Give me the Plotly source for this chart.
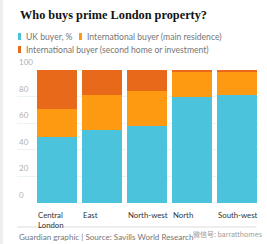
import plotly.graph_objects as go

categories = ["Central London", "East", "North-west", "North", "South-west"]
cat_labels = ["Central<br>London", "East", "North-west", "North", "South-west"]
uk_buyer = [50, 55, 58, 80, 81]
intl_main = [21, 26, 26, 19, 18]
intl_second = [29, 19, 16, 1, 1]
series_names = ["UK buyer, %", "International buyer (main residence)",
                "International buyer (second home or investment)"]
colors = ["#4cc3dc", "#fe9a12", "#e8691a"]
y_ticks = [0, 20, 40, 60, 80, 100]

FONT = "Lato"
xs = list(range(len(categories)))

fig = go.Figure()
for vals, name, col in zip([uk_buyer, intl_main, intl_second], series_names, colors):
    fig.add_trace(go.Bar(x=xs, y=vals, name=name, marker=dict(color=col, line=dict(width=0)),
                         showlegend=False))

fig.update_layout(
    barmode="stack",
    bargap=0.11,
    width=267, height=244,
    margin=dict(l=17, r=8, t=70, b=41),
    paper_bgcolor="white", plot_bgcolor="white",
    font=dict(family=FONT, size=9, color="#767676"),
    xaxis=dict(range=[-0.889, 4.5], showticklabels=False, showgrid=False,
               zeroline=False, showline=False, fixedrange=True),
    yaxis=dict(range=[0, 100], tickvals=y_ticks, showticklabels=False,
               showgrid=True, gridcolor="rgba(225,238,242,0.75)", gridwidth=1,
               zeroline=False, layer="above traces", fixedrange=True),
)

annotations = []
# title
annotations.append(dict(text="<b>Who buys prime London property?</b>", xref="paper", yref="paper",
                        x=0, y=1, xanchor="left", yanchor="middle", yshift=55, xshift=1,
                        showarrow=False,
                        font=dict(family="Liberation Serif", size=12.3, color="#121212")))
# y tick labels
for v in y_ticks:
    annotations.append(dict(text=str(v), xref="paper", yref="y", x=0, y=v,
                            xanchor="left", yanchor="bottom", yshift=1, showarrow=False,
                            font=dict(family=FONT, size=8, color="#b0b0b0")))
# x tick labels (left-aligned to bar edges)
for i, lab in zip(xs, cat_labels):
    annotations.append(dict(text=lab, xref="x", yref="paper", x=i, y=0, xshift=-21,
                            xanchor="left", yanchor="top", yshift=-5, showarrow=False,
                            align="left", font=dict(family=FONT, size=7.8, color="#333333")))
# source
annotations.append(dict(text="Guardian graphic | Source: Savills World Research", xref="paper",
                        yref="paper", x=0, y=0, xanchor="left", yanchor="middle", yshift=-34,
                        showarrow=False, font=dict(family=FONT, size=8.1, color="#767676")))
annotations.append(dict(text="微信号: barratthomes", xref="paper", yref="paper", x=1, y=0,
                        xanchor="right", yanchor="middle", yshift=-31, xshift=6,
                        showarrow=False, font=dict(family="Noto Sans CJK SC", size=7, color="#9a9a9a")))

# legend (custom)
legend_pos = [(7, -33), (68, -33), (7, -20)]  # pixel offsets from plot top-left
shapes = []
for (px, py), name, col in zip(legend_pos, series_names, colors):
    shapes.append(dict(type="rect", xref="paper", yref="paper", xsizemode="pixel",
                       ysizemode="pixel", xanchor=0, yanchor=1,
                       x0=px - 6, x1=px - 3, y0=-(py) + 4, y1=-(py) - 3,
                       fillcolor=col, line=dict(width=0)))
    annotations.append(dict(text=name, xref="paper", yref="paper", x=0, y=1,
                            xanchor="left", yanchor="middle", xshift=px, yshift=-py,
                            showarrow=False, font=dict(family=FONT, size=8.6, color="#767676")))

# left grey stripe and bottom rule
shapes.append(dict(type="rect", xref="paper", yref="paper", xsizemode="pixel", xanchor=0,
                   x0=-17, x1=-14, y0=-1, y1=2, fillcolor="#eeeeee", line=dict(width=0)))
shapes.append(dict(type="line", xref="paper", yref="paper", ysizemode="pixel", yanchor=0,
                   x0=0, x1=0.99, y0=-24, y1=-24, line=dict(color="#dcdcdc", width=1)))

fig.update_layout(annotations=annotations, shapes=shapes)
fig.write_html("out.html")
